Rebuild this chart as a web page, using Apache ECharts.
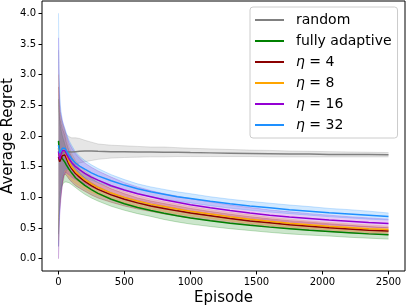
<!DOCTYPE html>
<html>
<head>
<meta charset="utf-8">
<script src="https://cdn.jsdelivr.net/npm/echarts@6/dist/echarts.min.js"></script>
<style>
html,body{margin:0;padding:0;background:#fff;}
#chart{width:407px;height:308px;}
</style>
</head>
<body>
<div id="chart"></div>
<script>
const episodes = [1,5,10,15,20,30,40,50,60,80,100,130,160,200,250,300,400,500,600,700,800,900,1000,1150,1300,1450,1600,1750,1900,2050,2200,2350,2500];

const seriesNames = ['random','fully adaptive','η=4','η=8','η=16','η=32'];

const randomMean = [1.70,1.68,1.66,1.68,1.70,1.72,1.73,1.74,1.74,1.745,1.74,1.745,1.75,1.755,1.755,1.75,1.745,1.745,1.74,1.74,1.735,1.735,1.73,1.725,1.72,1.715,1.71,1.705,1.705,1.70,1.70,1.70,1.695];
const randomHi   = [3.4,2.7,2.45,2.35,2.3,2.2,2.12,2.07,2.03,1.99,1.97,1.97,1.96,1.93,1.9,1.87,1.85,1.84,1.83,1.82,1.82,1.81,1.80,1.79,1.78,1.77,1.765,1.755,1.75,1.745,1.74,1.735,1.73];
const randomLo   = [0.0,0.6,0.8,0.95,1.05,1.2,1.3,1.38,1.43,1.49,1.52,1.54,1.56,1.58,1.6,1.62,1.64,1.65,1.655,1.66,1.66,1.665,1.665,1.665,1.665,1.665,1.66,1.66,1.66,1.66,1.66,1.66,1.66];

const adaptiveMean = [1.92,1.80,1.72,1.68,1.66,1.63,1.60,1.57,1.53,1.46,1.40,1.32,1.265,1.195,1.125,1.065,0.97,0.895,0.835,0.785,0.74,0.70,0.665,0.62,0.58,0.545,0.515,0.49,0.465,0.445,0.425,0.405,0.39];
const adaptiveHi   = [2.6,2.4,2.25,2.15,2.1,2.0,1.93,1.86,1.78,1.66,1.57,1.47,1.40,1.32,1.24,1.175,1.075,0.995,0.93,0.88,0.835,0.795,0.76,0.71,0.67,0.63,0.60,0.57,0.545,0.52,0.50,0.475,0.455];
const adaptiveLo   = [0.4,0.9,1.05,1.1,1.15,1.2,1.24,1.25,1.25,1.24,1.21,1.16,1.11,1.05,0.99,0.94,0.855,0.79,0.735,0.69,0.64,0.60,0.565,0.525,0.49,0.46,0.43,0.405,0.385,0.37,0.35,0.335,0.32];

const eta4Mean = [1.66,1.62,1.58,1.60,1.63,1.68,1.71,1.69,1.64,1.54,1.47,1.39,1.33,1.26,1.19,1.13,1.04,0.97,0.91,0.86,0.82,0.78,0.745,0.70,0.655,0.615,0.585,0.555,0.53,0.505,0.485,0.465,0.45];
const eta4Hi   = [2.8,2.5,2.3,2.25,2.2,2.12,2.07,2.0,1.9,1.76,1.66,1.55,1.47,1.39,1.31,1.24,1.14,1.06,0.99,0.94,0.90,0.86,0.82,0.77,0.725,0.685,0.65,0.62,0.595,0.57,0.545,0.525,0.505];
const eta4Lo   = [0.2,0.7,0.85,0.95,1.05,1.24,1.35,1.38,1.36,1.3,1.25,1.19,1.15,1.10,1.04,0.99,0.92,0.86,0.81,0.77,0.73,0.695,0.665,0.625,0.585,0.55,0.52,0.49,0.465,0.44,0.425,0.405,0.39];

const eta8Mean = [1.80,1.72,1.65,1.66,1.70,1.76,1.79,1.76,1.69,1.58,1.50,1.42,1.36,1.29,1.22,1.16,1.07,1.00,0.94,0.89,0.85,0.81,0.775,0.73,0.685,0.645,0.61,0.58,0.555,0.53,0.51,0.49,0.475];
const eta8Hi   = [3.0,2.7,2.45,2.35,2.3,2.2,2.15,2.08,1.98,1.83,1.72,1.6,1.52,1.43,1.35,1.28,1.17,1.09,1.03,0.97,0.93,0.89,0.85,0.80,0.755,0.715,0.675,0.645,0.615,0.59,0.57,0.55,0.53];
const eta8Lo   = [0.3,0.75,0.85,0.95,1.1,1.3,1.42,1.43,1.4,1.33,1.28,1.23,1.19,1.14,1.08,1.04,0.97,0.91,0.85,0.81,0.77,0.73,0.70,0.66,0.615,0.575,0.545,0.515,0.495,0.47,0.45,0.43,0.42];

const eta16Mean = [1.75,1.68,1.62,1.65,1.70,1.76,1.78,1.76,1.71,1.63,1.57,1.50,1.45,1.39,1.33,1.28,1.19,1.12,1.06,1.01,0.96,0.92,0.88,0.83,0.785,0.745,0.71,0.68,0.655,0.63,0.61,0.59,0.575];
const eta16Hi   = [3.6,2.9,2.55,2.4,2.35,2.25,2.17,2.1,2.02,1.89,1.81,1.71,1.64,1.56,1.49,1.43,1.33,1.24,1.17,1.11,1.06,1.02,0.98,0.925,0.875,0.835,0.795,0.765,0.735,0.71,0.685,0.665,0.645];
const eta16Lo   = [0.0,0.45,0.7,0.85,1.0,1.22,1.36,1.4,1.4,1.37,1.33,1.29,1.26,1.22,1.17,1.13,1.05,1.0,0.95,0.91,0.86,0.82,0.78,0.735,0.695,0.655,0.625,0.595,0.575,0.55,0.535,0.515,0.505];

const eta32Mean = [1.85,1.78,1.72,1.73,1.76,1.80,1.82,1.80,1.76,1.69,1.63,1.56,1.51,1.46,1.40,1.35,1.27,1.20,1.14,1.09,1.05,1.01,0.98,0.935,0.895,0.86,0.83,0.80,0.775,0.75,0.73,0.71,0.69];
const eta32Hi   = [4.0,3.1,2.7,2.5,2.4,2.25,2.18,2.12,2.05,1.93,1.85,1.74,1.67,1.60,1.53,1.47,1.37,1.29,1.22,1.17,1.13,1.09,1.06,1.01,0.97,0.935,0.905,0.875,0.85,0.82,0.80,0.775,0.745];
const eta32Lo   = [0.2,0.55,0.8,1.0,1.1,1.32,1.42,1.46,1.47,1.45,1.42,1.38,1.35,1.32,1.28,1.24,1.17,1.11,1.06,1.01,0.97,0.94,0.91,0.865,0.825,0.79,0.76,0.735,0.71,0.685,0.665,0.645,0.63];

const xTicks = [0,500,1000,1500,2000,2500];
const yTicks = [0,0.5,1,1.5,2,2.5,3,3.5,4];

const colors = ['#808080','#008000','#8b0000','#ffa500','#9400d3','#1e90ff'];
const means = [randomMean, adaptiveMean, eta4Mean, eta8Mean, eta16Mean, eta32Mean];
const his = [randomHi, adaptiveHi, eta4Hi, eta8Hi, eta16Hi, eta32Hi];
const los = [randomLo, adaptiveLo, eta4Lo, eta8Lo, eta16Lo, eta32Lo];

const FONT = 'DejaVu Sans';
const series = [];
seriesNames.forEach((n, k) => {
  const c = colors[k];
  series.push({
    type: 'custom', name: 'band_' + k, silent: true, z: 1,
    data: episodes.map((e, i) => [e, los[k][i], his[k][i]]),
    encode: { x: 0, y: [1, 2] },
    renderItem: function (params, api) {
      if (params.dataIndex !== 0) return null;
      const up = episodes.map((e, i) => api.coord([e, his[k][i]]));
      const dn = episodes.map((e, i) => api.coord([e, los[k][i]])).reverse();
      return {
        type: 'group',
        children: [
          { type: 'polygon', shape: { points: up.concat(dn) }, style: { fill: c, opacity: 0.2 } },
          { type: 'polyline', shape: { points: up }, style: { stroke: c, fill: null, lineWidth: 0.8, opacity: 0.3 } },
          { type: 'polyline', shape: { points: dn }, style: { stroke: c, fill: null, lineWidth: 0.8, opacity: 0.3 } }
        ]
      };
    }
  });
});
seriesNames.forEach((n, k) => {
  series.push({
    type: 'line', name: n, symbol: 'none', color: colors[k],
    data: episodes.map((e, i) => [e, means[k][i]]),
    lineStyle: { color: colors[k], width: 1.5 },
    itemStyle: { color: colors[k] }, z: 2
  });
});

const chart = echarts.init(document.getElementById('chart'), null, { renderer: 'canvas' });
chart.setOption({
  animation: false,
  grid: { left: 42, right: 2, top: 1, bottom: 37, outerBoundsMode: 'none', containLabel: false, show: true, borderColor: '#000', borderWidth: 1, backgroundColor: 'transparent' },
  xAxis: {
    type: 'value', min: -124, max: 2625,
    name: 'Episode', nameLocation: 'middle', nameGap: 20, nameMoveOverlap: false,
    nameTextStyle: { fontFamily: FONT, fontSize: 15, color: '#000' },
    axisLine: { show: false, onZero: false },
    axisTick: { show: true, inside: false, length: 3.5, lineStyle: { color: '#000', width: 1 }, customValues: xTicks },
    axisLabel: { fontFamily: FONT, fontSize: 10, color: '#000', margin: 6, customValues: xTicks, formatter: v => String(v) },
    splitLine: { show: false }
  },
  yAxis: {
    type: 'value', min: -0.2, max: 4.2,
    name: 'Average Regret', nameLocation: 'middle', nameGap: 26, nameMoveOverlap: false,
    nameTextStyle: { fontFamily: FONT, fontSize: 15, color: '#000' },
    axisLine: { show: false, onZero: false },
    axisTick: { show: true, inside: false, length: 3.5, lineStyle: { color: '#000', width: 1 }, customValues: yTicks },
    axisLabel: { fontFamily: FONT, fontSize: 10, color: '#000', margin: 6, customValues: yTicks, formatter: v => v.toFixed(1) },
    splitLine: { show: false }
  },
  legend: {
    data: seriesNames,
    orient: 'vertical', left: 250, top: 7,
    padding: [6, 6, 6, 5],
    backgroundColor: 'rgba(255,255,255,0.8)', borderColor: '#cccccc', borderWidth: 1, borderRadius: 3,
    icon: 'rect', itemWidth: 29, itemHeight: 2, itemGap: 7,
    selectedMode: false,
    textStyle: {
      fontFamily: FONT, fontSize: 14, lineHeight: 14, color: '#000', padding: [0, 0, 0, 7],
      rich: {
        it: { fontFamily: FONT, fontSize: 14, lineHeight: 14, fontStyle: 'italic', color: '#000' },
        t: { fontFamily: FONT, fontSize: 14, lineHeight: 14, color: '#000' }
      }
    },
    formatter: function (name) {
      if (name.indexOf('η=') === 0) return '{it|η}{t| = ' + name.slice(2) + '}';
      return name;
    }
  },
  series: series
});
</script>
</body>
</html>
